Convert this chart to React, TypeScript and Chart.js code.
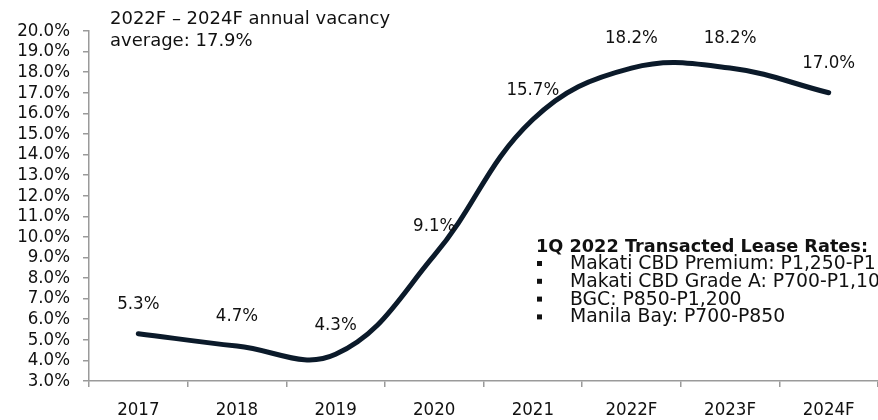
import React, { useEffect, useRef } from 'react';
import { Chart, registerables } from 'chart.js';

Chart.register(...registerables);

const categories = ['2017', '2018', '2019', '2020', '2021', '2022F', '2023F', '2024F'];
const vacancy = [5.3, 4.7, 4.3, 9.1, 15.7, 18.2, 18.2, 17.0];
const yMin = 3;
const yMax = 20;
const yStep = 1;
const noteLines = ['2022F – 2024F annual vacancy', 'average: 17.9%'];
const rateTitle = '1Q 2022 Transacted Lease Rates:';
const rateLines = [
  'Makati CBD Premium: P1,250-P1',
  'Makati CBD Grade A: P700-P1,10',
  'BGC: P850-P1,200',
  'Manila Bay: P700-P850',
];

const FONT_C = "'DejaVu Sans Condensed', 'DejaVu Sans', sans-serif";
const FONT_N = "'DejaVu Sans', sans-serif";
const AXIS = '#9a9a9a';
const TEXT = '#111111';
const LINE = '#0b1a2a';

const textPlugin = {
  id: 'textPlugin',
  afterDatasetsDraw(chart: any) {
    const ctx = chart.ctx;
    const meta = chart.getDatasetMeta(0);
    ctx.save();
    // data labels
    ctx.fillStyle = TEXT;
    ctx.font = `18.5px ${FONT_C}`;
    ctx.textAlign = 'center';
    ctx.textBaseline = 'middle';
    meta.data.forEach((pt: any, i: number) => {
      ctx.fillText(vacancy[i].toFixed(1) + '%', pt.x, pt.y - 29.5);
    });
    // top-left note
    ctx.font = `18px ${FONT_N}`;
    ctx.textAlign = 'left';
    ctx.textBaseline = 'alphabetic';
    noteLines.forEach((t, i) => {
      ctx.fillText(t, 110, 24 + i * 21.5);
    });
    // lease rates block
    ctx.font = `bold 17.7px ${FONT_N}`;
    ctx.fillText(rateTitle, 536, 252);
    ctx.font = `18.8px ${FONT_N}`;
    rateLines.forEach((t, i) => {
      const base = 269 + i * 17.8;
      ctx.fillRect(537, base - 8, 5, 5);
      ctx.fillText(t, 570, base);
    });
    ctx.restore();
  },
};

export default function App() {
  const ref = useRef<HTMLCanvasElement | null>(null);

  useEffect(() => {
    if (!ref.current) return;
    const chart = new Chart(ref.current, {
      type: 'line',
      data: {
        labels: categories,
        datasets: [
          {
            data: vacancy,
            borderColor: LINE,
            borderWidth: 5,
            borderCapStyle: 'round',
            pointRadius: 0,
            tension: 0.4,
            fill: false,
            clip: false as any,
          },
        ],
      },
      options: {
        animation: false,
        responsive: true,
        maintainAspectRatio: false,
        layout: { padding: { top: 31, right: 0, left: 0, bottom: 0 } },
        plugins: {
          legend: { display: false },
          tooltip: { enabled: false },
        },
        scales: {
          x: {
            offset: true,
            grid: {
              offset: true,
              drawOnChartArea: false,
              drawTicks: true,
              tickLength: 6,
              color: AXIS,
              lineWidth: 1.5,
            },
            border: { display: true, color: AXIS, width: 1.5 },
            ticks: {
              color: TEXT,
              font: { size: 18.5, family: FONT_C },
              padding: 12,
              maxRotation: 0,
              autoSkip: false,
            },
            afterFit(scale: any) {
              scale.height = 39;
            },
          },
          y: {
            min: yMin,
            max: yMax,
            grid: {
              drawOnChartArea: false,
              drawTicks: true,
              tickLength: 6,
              color: AXIS,
              lineWidth: 1.5,
            },
            border: { display: true, color: AXIS, width: 1.5 },
            ticks: {
              stepSize: yStep,
              autoSkip: false,
              color: TEXT,
              font: { size: 18.5, family: FONT_C },
              padding: 13,
              callback: (v: any) => Number(v).toFixed(1) + '%',
            },
            afterFit(scale: any) {
              scale.width = 89;
            },
          },
        },
      },
      plugins: [textPlugin],
    });
    return () => chart.destroy();
  }, []);

  return (
    <div style={{ position: 'absolute', left: 0, top: 0, width: 878, height: 420 }}>
      <canvas ref={ref} />
    </div>
  );
}
